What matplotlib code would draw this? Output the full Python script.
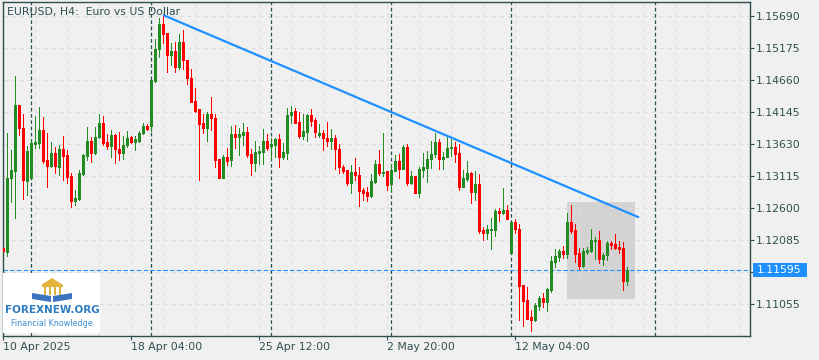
import matplotlib
matplotlib.use("Agg")
import matplotlib.pyplot as plt
import matplotlib.transforms as mtransforms
from matplotlib.patches import Rectangle, Polygon
import numpy as np

# EURUSD H4 candles
opens = [1.11957, 1.11892, 1.13083, 1.13196, 1.14258, 1.13888, 1.13035, 1.13083, 1.13630, 1.13646,
         1.13856, 1.13373, 1.13276, 1.13486, 1.13260, 1.13550, 1.13453, 1.13115, 1.12713, 1.12745,
         1.13148, 1.13437, 1.13679, 1.13486, 1.13743, 1.13968, 1.13663, 1.13598, 1.13775, 1.13550,
         1.13486, 1.13614, 1.13743, 1.13663, 1.13679, 1.13807, 1.13920, 1.13920, 1.14644, 1.15159,
         1.15561, 1.15416, 1.15063, 1.15127, 1.14870, 1.15272, 1.14982, 1.14693, 1.14323, 1.14194,
         1.13968, 1.13888, 1.14113, 1.14049, 1.13389, 1.13083, 1.13421, 1.13373, 1.13791, 1.13743,
         1.13775, 1.13823, 1.13469, 1.13325, 1.13486, 1.13502, 1.13679, 1.13598, 1.13614, 1.13711,
         1.13421, 1.13486, 1.14097, 1.14162, 1.13984, 1.13759, 1.13823, 1.14097, 1.14017, 1.13775,
         1.13807, 1.13727, 1.13679, 1.13727, 1.13550, 1.13260, 1.13212, 1.13003, 1.13180, 1.13132,
         1.12890, 1.12858, 1.12794, 1.13019, 1.13309, 1.13164, 1.13196, 1.12987, 1.13196, 1.13357,
         1.13228, 1.13582, 1.13003, 1.13115, 1.12842, 1.13212, 1.13244, 1.13389, 1.13469, 1.13663,
         1.13389, 1.13421, 1.13566, 1.13582, 1.13486, 1.12938, 1.13067, 1.13164, 1.12858, 1.12987,
         1.12246, 1.12198, 1.12246, 1.12246, 1.12552, 1.12520, 1.12568, 1.11876, 1.12375, 1.12263,
         1.11361, 1.11120, 1.10846, 1.10798, 1.11023, 1.11152, 1.11088, 1.11281, 1.11731, 1.11812,
         1.11908, 1.11860, 1.12375, 1.12246, 1.11876, 1.11667, 1.11892, 1.11908, 1.12069, 1.12085,
         1.11780, 1.11844, 1.12037, 1.12021, 1.11973, 1.11957, 1.11426]
highs = [1.11957, 1.13807, 1.13534, 1.14725, 1.14258, 1.14113, 1.13598, 1.13695, 1.14081, 1.14226,
         1.14065, 1.13807, 1.13663, 1.13582, 1.13614, 1.13759, 1.13534, 1.13164, 1.12890, 1.13212,
         1.13469, 1.13904, 1.13743, 1.13904, 1.14113, 1.14081, 1.13791, 1.13856, 1.13791, 1.13823,
         1.13759, 1.13840, 1.13759, 1.13759, 1.13840, 1.13968, 1.13952, 1.14660, 1.15320, 1.15658,
         1.15706, 1.15416, 1.15256, 1.15272, 1.15400, 1.15465, 1.14982, 1.14837, 1.14532, 1.14194,
         1.14113, 1.14145, 1.14387, 1.14113, 1.13389, 1.13453, 1.13566, 1.13920, 1.13936, 1.13888,
         1.13968, 1.13904, 1.13550, 1.13679, 1.13598, 1.13872, 1.13791, 1.13727, 1.13727, 1.13791,
         1.13646, 1.14210, 1.14242, 1.14210, 1.14145, 1.14113, 1.14113, 1.14194, 1.14049, 1.13952,
         1.13856, 1.13984, 1.13872, 1.13775, 1.13630, 1.13292, 1.13212, 1.13292, 1.13405, 1.13260,
         1.12922, 1.12938, 1.13148, 1.13373, 1.13534, 1.13807, 1.13196, 1.13309, 1.13453, 1.13469,
         1.13614, 1.13630, 1.13196, 1.13115, 1.13260, 1.13486, 1.13518, 1.13679, 1.13807, 1.13711,
         1.13502, 1.13759, 1.13711, 1.13663, 1.13630, 1.13212, 1.13357, 1.13180, 1.13196, 1.13148,
         1.12295, 1.12327, 1.12440, 1.12584, 1.12600, 1.12922, 1.12649, 1.12375, 1.12423, 1.12343,
         1.11361, 1.11329, 1.10959, 1.11072, 1.11184, 1.11233, 1.11313, 1.11828, 1.11941, 1.11941,
         1.11989, 1.12520, 1.12649, 1.12343, 1.11957, 1.11957, 1.11973, 1.12263, 1.12134, 1.12230,
         1.11876, 1.12069, 1.12069, 1.12182, 1.12069, 1.12053, 1.11651]
lows = [1.11908, 1.11828, 1.12697, 1.12440, 1.13775, 1.12745, 1.12810, 1.13083, 1.13566, 1.13566,
        1.13325, 1.12938, 1.13260, 1.13164, 1.13132, 1.13051, 1.13003, 1.12617, 1.12649, 1.12729,
        1.13132, 1.13373, 1.13341, 1.13469, 1.13727, 1.13614, 1.13550, 1.13421, 1.13325, 1.13373,
        1.13389, 1.13582, 1.13646, 1.13534, 1.13663, 1.13791, 1.13856, 1.13840, 1.14628, 1.15030,
        1.15256, 1.14789, 1.14902, 1.14789, 1.14837, 1.14837, 1.14596, 1.14307, 1.14145, 1.13051,
        1.13807, 1.13679, 1.13856, 1.13260, 1.13083, 1.13083, 1.13292, 1.13276, 1.13566, 1.13453,
        1.13614, 1.13421, 1.13132, 1.13196, 1.13309, 1.13309, 1.13534, 1.13373, 1.13421, 1.13260,
        1.13389, 1.13389, 1.13968, 1.13968, 1.13727, 1.13711, 1.13679, 1.13920, 1.13743, 1.13743,
        1.13534, 1.13598, 1.13550, 1.13228, 1.13164, 1.13164, 1.12971, 1.12842, 1.13051, 1.12633,
        1.12729, 1.12713, 1.12778, 1.13003, 1.13132, 1.13115, 1.12890, 1.12874, 1.13196, 1.13083,
        1.13228, 1.12971, 1.12987, 1.12842, 1.12778, 1.13099, 1.13019, 1.13244, 1.13421, 1.13228,
        1.13228, 1.13421, 1.13437, 1.13341, 1.12890, 1.12938, 1.13035, 1.12681, 1.12729, 1.12198,
        1.12085, 1.12102, 1.11941, 1.12150, 1.12391, 1.12504, 1.12423, 1.11876, 1.12198, 1.10798,
        1.10701, 1.10814, 1.10621, 1.10782, 1.10959, 1.11007, 1.10943, 1.11249, 1.11651, 1.11748,
        1.11796, 1.11796, 1.12198, 1.11731, 1.11619, 1.11651, 1.11860, 1.11892, 1.11780, 1.11715,
        1.11683, 1.11764, 1.11941, 1.11941, 1.11876, 1.11281, 1.11361]
closes = [1.11908, 1.13083, 1.13212, 1.14258, 1.13888, 1.13051, 1.13518, 1.13646, 1.13663, 1.13856,
          1.13357, 1.13276, 1.13486, 1.13276, 1.13550, 1.13437, 1.13099, 1.12713, 1.12761, 1.13164,
          1.13453, 1.13679, 1.13486, 1.13743, 1.13968, 1.13646, 1.13598, 1.13775, 1.13550, 1.13486,
          1.13614, 1.13727, 1.13663, 1.13711, 1.13807, 1.13920, 1.13872, 1.14660, 1.15159, 1.15561,
          1.15400, 1.15063, 1.15127, 1.14870, 1.15272, 1.14982, 1.14693, 1.14307, 1.14162, 1.13952,
          1.13888, 1.14113, 1.14049, 1.13373, 1.13083, 1.13421, 1.13357, 1.13791, 1.13743, 1.13791,
          1.13823, 1.13453, 1.13325, 1.13502, 1.13518, 1.13679, 1.13566, 1.13630, 1.13711, 1.13421,
          1.13502, 1.14097, 1.14145, 1.13968, 1.13759, 1.13840, 1.14097, 1.14001, 1.13823, 1.13807,
          1.13727, 1.13679, 1.13727, 1.13550, 1.13260, 1.13196, 1.13003, 1.13180, 1.13132, 1.12874,
          1.12842, 1.12794, 1.13035, 1.13309, 1.13164, 1.13180, 1.12971, 1.13212, 1.13357, 1.13228,
          1.13582, 1.13003, 1.13115, 1.12842, 1.13228, 1.13260, 1.13389, 1.13469, 1.13663, 1.13389,
          1.13421, 1.13566, 1.13582, 1.13469, 1.12938, 1.13083, 1.13164, 1.12858, 1.12987, 1.12230,
          1.12198, 1.12263, 1.12263, 1.12552, 1.12520, 1.12568, 1.12423, 1.12375, 1.12263, 1.11345,
          1.11104, 1.10814, 1.10798, 1.11039, 1.11152, 1.11088, 1.11297, 1.11748, 1.11828, 1.11908,
          1.11860, 1.12375, 1.12230, 1.11860, 1.11667, 1.11908, 1.11925, 1.12085, 1.12085, 1.11780,
          1.11844, 1.12037, 1.12005, 1.11957, 1.11941, 1.11426, 1.11595]

x_tick_pos = [0, 32, 64, 96, 128]
x_tick_labels = ["10 Apr 2025", "18 Apr 04:00", "25 Apr 12:00", "2 May 20:00", "12 May 04:00"]
y_tick_pos = [1.15690, 1.15175, 1.14660, 1.14145, 1.13630, 1.13115, 1.12600, 1.12085, 1.11570, 1.11055]
week_separators = [7, 37, 67, 97, 127, 163]

trend_x = [40, 159]
trend_y = [1.15706, 1.12448]
zone_x = [140.9, 157.9]
zone_y = [1.11136, 1.12697]
last_price = 1.11595

BG = "#F0F0F0"
FG = "#2F4F4F"
UP = "#228B22"
DOWN = "#FF0000"
BLUE = "#1E90FF"

fig = plt.figure(figsize=(8.2, 3.6), dpi=100, facecolor=BG)
ax = fig.add_axes([3 / 820, 24 / 360, 747 / 820, 334 / 360], facecolor=BG)
y_lo, y_hi = 1.10540, 1.15915

# grid (every 8 bars / every y tick)
for yv in y_tick_pos:
    ax.axhline(yv, color="#DCDCDC", lw=0.72, ls=(0, (4, 4)), zorder=1)
for xv in range(0, 187, 8):
    ax.axvline(xv, color="#DCDCDC", lw=0.72, ls=(0, (4, 4)), zorder=1)

# shaded consolidation zone
ax.add_patch(Rectangle((zone_x[0], zone_y[0]), zone_x[1] - zone_x[0], zone_y[1] - zone_y[0],
                       facecolor="#D3D3D3", edgecolor="none", zorder=0.5))

for s in week_separators:
    ax.axvline(s, color=FG, lw=0.9, ls=(0, (3, 2)), zorder=1.5)

# candles: 1px wicks, 3px bodies
o = np.array(opens)
h = np.array(highs)
l = np.array(lows)
c = np.array(closes)
idx = np.arange(len(o))
cols = np.where(c >= o, UP, DOWN)
ax.vlines(idx, l, h, colors=cols, lw=0.72, zorder=3, antialiased=False)
body_lo = np.minimum(o, c)
body_hi = np.maximum(np.maximum(o, c), body_lo + 0.00014)
bodies = ax.vlines(idx, body_lo, body_hi, colors=cols, lw=2.16, zorder=4, antialiased=False)
bodies.set_capstyle("butt")

ax.axhline(last_price, color=BLUE, lw=0.8, ls=(0, (4, 2)), zorder=2)
ax.plot(trend_x, trend_y, color=BLUE, lw=1.6, zorder=5, solid_capstyle="butt")

ax.set_xlim(0, 186.75)
ax.set_ylim(y_lo, y_hi)

for sp in ax.spines.values():
    sp.set_color(FG)
    sp.set_linewidth(1.0)

ax.yaxis.tick_right()
ax.set_yticks(y_tick_pos)
# the 1.11570 label sits under the current-price box
ax.set_yticklabels(["" if abs(v - last_price) < 0.001 else f"{v:.5f}" for v in y_tick_pos])
ax.set_xticks(x_tick_pos)
ax.set_xticklabels(x_tick_labels)
for lbl in ax.get_xticklabels():
    lbl.set_horizontalalignment("left")
ax.tick_params(axis="both", direction="out", length=3, width=0.8, color=FG,
               labelcolor=FG, labelsize=7.8, pad=1.5)

fig.text(7 / 820, 1 - 12 / 360, "EURUSD, H4:  Euro vs US Dollar", ha="left", va="center",
         fontsize=7.8, color=FG)

# current price label on the right scale
trans = mtransforms.blended_transform_factory(fig.transFigure, ax.transData)
px = (y_hi - y_lo) / 334
fig.add_artist(Rectangle((753 / 820, last_price - 7 * px), 54 / 820, 14 * px, transform=trans,
                         facecolor=BLUE, edgecolor="none", zorder=6))
fig.text(757 / 820, last_price, f"{last_price:.5f}", transform=trans, color="white",
         fontsize=7.8, ha="left", va="center", zorder=7)

# watermark logo (pixel coords, origin top-left)
pix = mtransforms.Affine2D().scale(1 / 820, -1 / 360).translate(0, 1) + fig.transFigure
fig.add_artist(Rectangle((3, 273), 97, 60, transform=pix, facecolor="white",
                         edgecolor="none", zorder=8))
gold = "#E2B33C"
fig.add_artist(Polygon([(41, 285), (52, 278), (63, 285)], closed=True, transform=pix,
                       facecolor=gold, edgecolor="none", zorder=9))
fig.add_artist(Rectangle((42, 285), 21, 2, transform=pix, facecolor=gold, edgecolor="none", zorder=9))
for cx in [44, 49, 54, 59]:
    fig.add_artist(Rectangle((cx, 287), 2.2, 8, transform=pix, facecolor=gold,
                             edgecolor="none", zorder=9))
fig.add_artist(Polygon([(32, 293), (51, 296), (51, 302), (32, 299)], closed=True, transform=pix,
                       facecolor="#3C74C0", edgecolor="none", zorder=9))
fig.add_artist(Polygon([(72, 293), (53, 296), (53, 302), (72, 299)], closed=True, transform=pix,
                       facecolor="#3C74C0", edgecolor="none", zorder=9))
fig.text(52 / 820, 1 - 310 / 360, "FOREXNEW.ORG", ha="center", va="center", fontsize=7.5,
         fontweight="bold", color="#2D7CC1", zorder=10)
fig.text(53 / 820, 1 - 323 / 360, "Financial Knowledge.", ha="center", va="center", fontsize=5.8,
         color="#3D8BD0", zorder=10)

fig.savefig("out.png", dpi=100, facecolor=BG)
